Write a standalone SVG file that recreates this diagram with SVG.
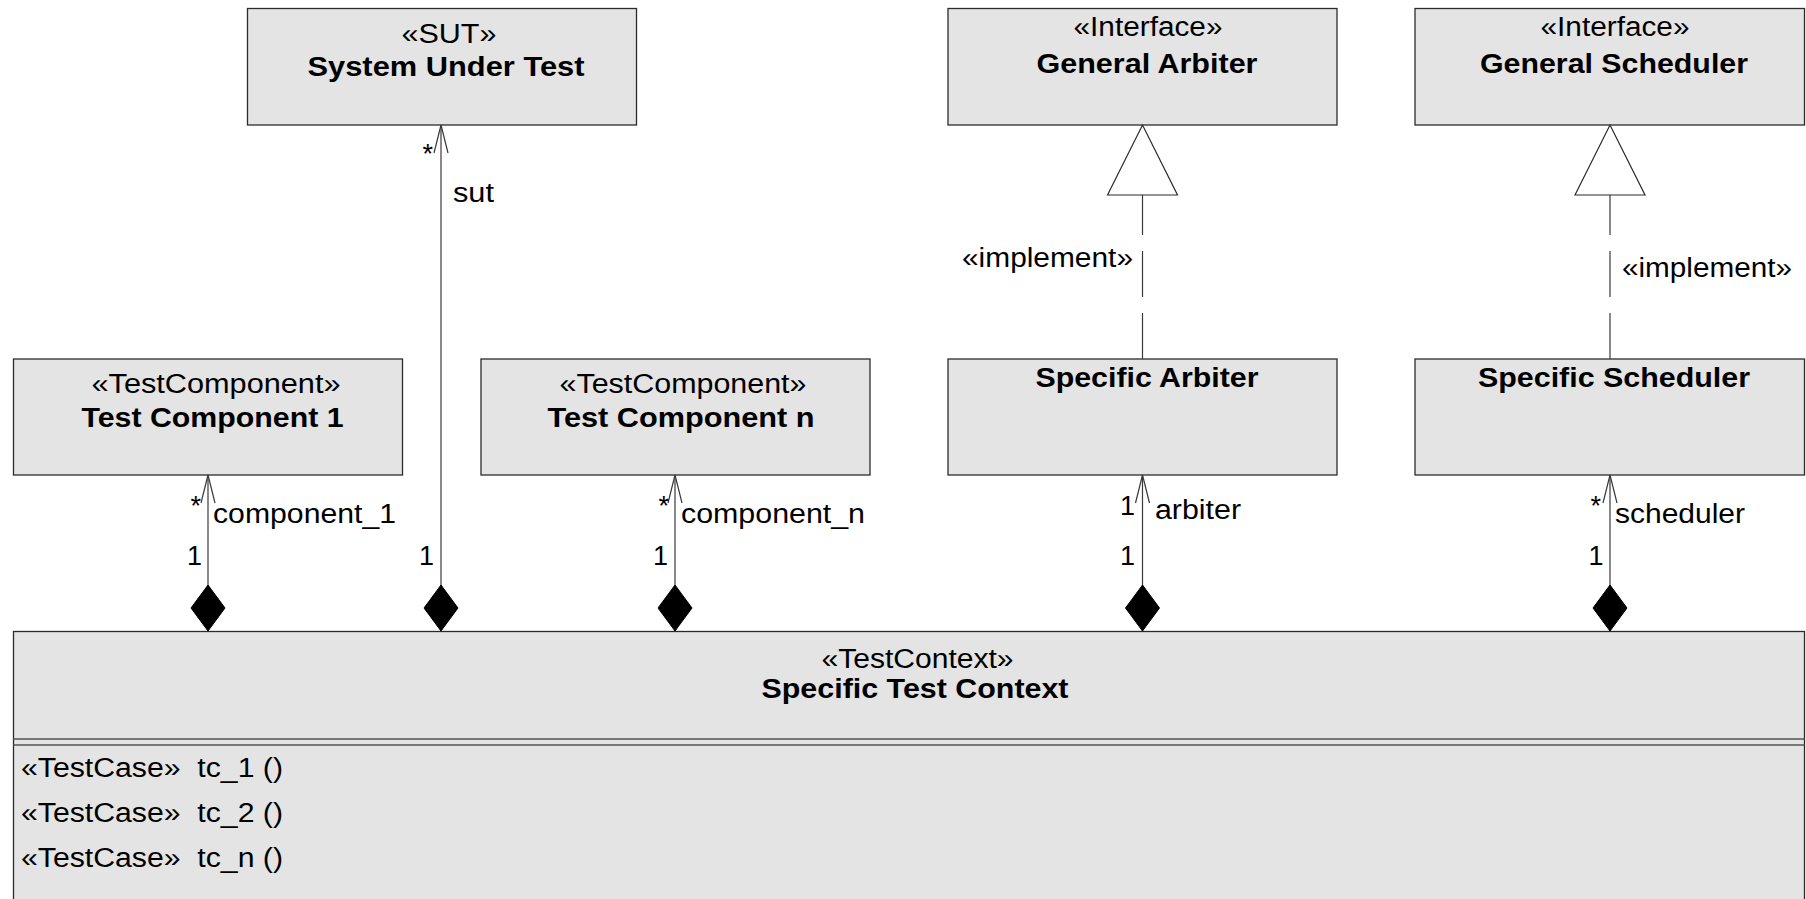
<svg xmlns="http://www.w3.org/2000/svg" width="1806" height="899" viewBox="0 0 1806 899">
  <style>
    .box { fill: #e4e4e4; stroke: #2b2b2b; stroke-width: 1.3; }
    .sep { stroke: #555; stroke-width: 1.3; }
    .t { font-family: "Liberation Sans", Arial, sans-serif; font-size: 27px; fill: #000; }
    .b { font-weight: bold; }
    .c { text-anchor: middle; }
    .e { text-anchor: end; }
    .line { fill: none; stroke: #3a3a3a; stroke-width: 1.2; }
    .dash { stroke-dasharray: 46 16; }
  </style>
  <defs>
    <!-- open arrowhead for navigable association ends -->
    <marker id="open" markerUnits="userSpaceOnUse" markerWidth="40" markerHeight="20" viewBox="-30 -10 40 20" refX="0" refY="0" orient="auto" overflow="visible">
      <path d="M -28 -7 L 0 0 L -28 7" fill="none" stroke="#3a3a3a" stroke-width="1.2"/>
    </marker>
    <!-- filled diamond for composition -->
    <marker id="diamond" markerUnits="userSpaceOnUse" markerWidth="50" markerHeight="40" viewBox="0 -20 50 40" refX="0" refY="0" orient="auto" overflow="visible">
      <path d="M 0 0 L 23 -17 L 46 0 L 23 17 Z" fill="#000" stroke="#000" stroke-width="1"/>
    </marker>
    <!-- hollow triangle for realization -->
    <marker id="tri" markerUnits="userSpaceOnUse" markerWidth="80" markerHeight="80" viewBox="0 -40 80 80" refX="0" refY="0" orient="auto" overflow="visible">
      <path d="M 0 -35 L 70 0 L 0 35 Z" fill="#fff" stroke="#2b2b2b" stroke-width="1.2" stroke-dasharray="none"/>
    </marker>
  </defs>

  <rect width="1806" height="899" fill="#fff"/>

  <g id="sut">
    <rect class="box" x="247.5" y="8.5" width="389" height="116.5"/>
    <text class="t c" x="449" y="43" textLength="95" lengthAdjust="spacingAndGlyphs">«SUT»</text>
    <text class="t b c" x="446" y="76" textLength="277" lengthAdjust="spacingAndGlyphs">System Under Test</text>
  </g>

  <g id="general-arbiter">
    <rect class="box" x="948" y="8.5" width="389" height="116.5"/>
    <text class="t c" x="1148" y="36" textLength="149" lengthAdjust="spacingAndGlyphs">«Interface»</text>
    <text class="t b c" x="1147" y="73" textLength="221" lengthAdjust="spacingAndGlyphs">General Arbiter</text>
  </g>

  <g id="general-scheduler">
    <rect class="box" x="1415" y="8.5" width="389.5" height="116.5"/>
    <text class="t c" x="1615" y="36" textLength="149" lengthAdjust="spacingAndGlyphs">«Interface»</text>
    <text class="t b c" x="1614" y="73" textLength="268" lengthAdjust="spacingAndGlyphs">General Scheduler</text>
  </g>

  <g id="test-component-1">
    <rect class="box" x="13.5" y="359" width="389" height="116"/>
    <text class="t c" x="216" y="393" textLength="249" lengthAdjust="spacingAndGlyphs">«TestComponent»</text>
    <text class="t b c" x="212.5" y="427" textLength="262" lengthAdjust="spacingAndGlyphs">Test Component 1</text>
  </g>

  <g id="test-component-n">
    <rect class="box" x="481" y="359" width="389" height="116"/>
    <text class="t c" x="683" y="393" textLength="247" lengthAdjust="spacingAndGlyphs">«TestComponent»</text>
    <text class="t b c" x="681" y="427" textLength="267" lengthAdjust="spacingAndGlyphs">Test Component n</text>
  </g>

  <g id="specific-arbiter">
    <rect class="box" x="948" y="359" width="389" height="116"/>
    <text class="t b c" x="1147" y="387" textLength="223" lengthAdjust="spacingAndGlyphs">Specific Arbiter</text>
  </g>

  <g id="specific-scheduler">
    <rect class="box" x="1415" y="359" width="389.5" height="116"/>
    <text class="t b c" x="1614" y="387" textLength="272" lengthAdjust="spacingAndGlyphs">Specific Scheduler</text>
  </g>

  <g id="specific-test-context">
    <rect class="box" x="13.5" y="631.5" width="1791" height="290"/>
    <text class="t c" x="917.5" y="668" textLength="192" lengthAdjust="spacingAndGlyphs">«TestContext»</text>
    <text class="t b c" x="915" y="698" textLength="307" lengthAdjust="spacingAndGlyphs">Specific Test Context</text>
    <line class="sep" x1="13.5" y1="739" x2="1804.5" y2="739"/>
    <line class="sep" x1="13.5" y1="745" x2="1804.5" y2="745"/>
    <text class="t" x="21" y="777" textLength="262" lengthAdjust="spacingAndGlyphs">«TestCase»&#160; tc_1 ()</text>
    <text class="t" x="21" y="822" textLength="262" lengthAdjust="spacingAndGlyphs">«TestCase»&#160; tc_2 ()</text>
    <text class="t" x="21" y="867" textLength="262" lengthAdjust="spacingAndGlyphs">«TestCase»&#160; tc_n ()</text>
  </g>

  <g id="connectors">
    <!-- compositions from the test context -->
    <path class="line" d="M 208 631 L 208 475" marker-start="url(#diamond)" marker-end="url(#open)"/>
    <path class="line" d="M 441 631 L 441 125" marker-start="url(#diamond)" marker-end="url(#open)"/>
    <path class="line" d="M 675 631 L 675 475" marker-start="url(#diamond)" marker-end="url(#open)"/>
    <path class="line" d="M 1142.5 631 L 1142.5 475" marker-start="url(#diamond)" marker-end="url(#open)"/>
    <path class="line" d="M 1610 631 L 1610 475" marker-start="url(#diamond)" marker-end="url(#open)"/>

    <!-- realizations of the interfaces -->
    <path class="line dash" d="M 1142.5 359 L 1142.5 195" marker-end="url(#tri)"/>
    <path class="line dash" d="M 1610 359 L 1610 195" marker-end="url(#tri)"/>

    <!-- role names and multiplicities -->
    <text class="t e" x="201" y="515">*</text>
    <text class="t" x="213" y="523" textLength="183" lengthAdjust="spacingAndGlyphs">component_1</text>
    <text class="t" x="187" y="565">1</text>

    <text class="t e" x="433" y="163">*</text>
    <text class="t" x="453" y="202" textLength="41" lengthAdjust="spacingAndGlyphs">sut</text>
    <text class="t" x="419" y="565">1</text>

    <text class="t e" x="669" y="515">*</text>
    <text class="t" x="681" y="523" textLength="184" lengthAdjust="spacingAndGlyphs">component_n</text>
    <text class="t" x="653" y="565">1</text>

    <text class="t" x="1120" y="515">1</text>
    <text class="t" x="1155" y="519" textLength="86" lengthAdjust="spacingAndGlyphs">arbiter</text>
    <text class="t" x="1120" y="565">1</text>

    <text class="t e" x="1601" y="515">*</text>
    <text class="t" x="1615" y="523" textLength="130" lengthAdjust="spacingAndGlyphs">scheduler</text>
    <text class="t" x="1588.5" y="565">1</text>

    <text class="t" x="962" y="267" textLength="171" lengthAdjust="spacingAndGlyphs">«implement»</text>
    <text class="t" x="1622" y="277" textLength="170" lengthAdjust="spacingAndGlyphs">«implement»</text>
  </g>
</svg>
